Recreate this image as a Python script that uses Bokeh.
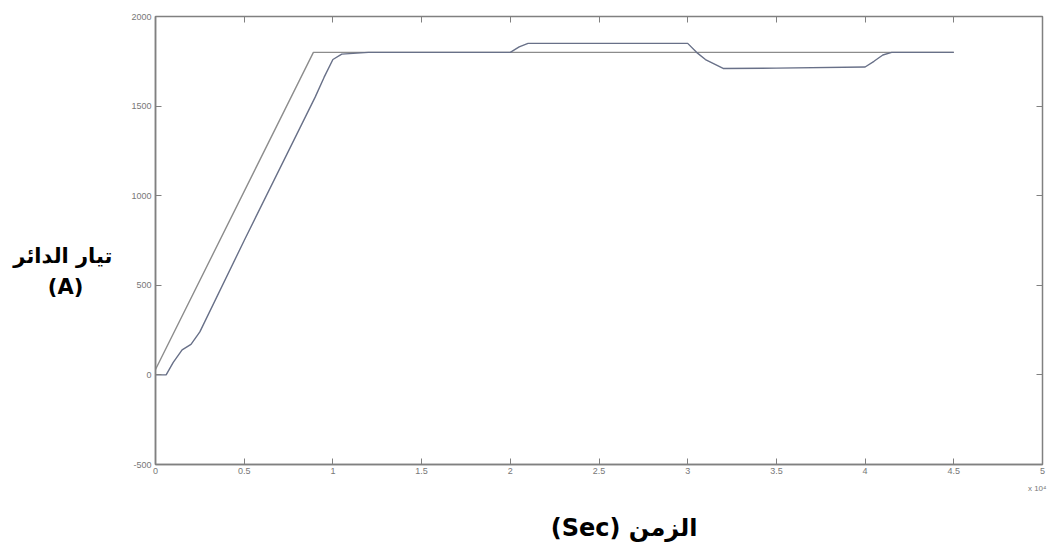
from bokeh.plotting import figure
from bokeh.models import LinearAxis, Title, FixedTicker, Range1d
from bokeh.embed import file_html
from bokeh.resources import INLINE

# reference current (straight ramp)
t_ref = [0.0, 0.89, 4.5]
i_ref = [30, 1800, 1800]

# measured current
t_act = [0.0, 0.06, 0.10, 0.15, 0.20, 0.25, 0.50, 0.75, 0.90, 0.95, 1.00, 1.05, 1.20,
         2.00, 2.05, 2.10, 3.00, 3.05, 3.10, 3.20, 3.50, 4.00, 4.05, 4.10, 4.15, 4.50]
i_act = [0, 0, 70, 140, 170, 240, 750, 1250, 1550, 1660, 1760, 1790, 1800,
         1800, 1830, 1850, 1850, 1800, 1760, 1710, 1712, 1718, 1750, 1785, 1800, 1800]

x_ticks = [0, 0.5, 1, 1.5, 2, 2.5, 3, 3.5, 4, 4.5, 5]
x_tick_labels = ["0", "0.5", "1", "1.5", "2", "2.5", "3", "3.5", "4", "4.5", "5"]
y_ticks = [-500, 0, 500, 1000, 1500, 2000]
y_tick_labels = ["-500", "0", "500", "1000", "1500", "2000"]

y_title = "تيار الدائر"
y_unit = "(A)"
x_title = "(Sec) الزمن"
x_scale_note = "x 10⁴"

NBSP = "\u00a0"

p = figure(width=1049, height=553, output_backend="svg", toolbar_location=None,
           x_range=Range1d(0, 5), y_range=Range1d(-500, 2000),
           min_border_left=155, min_border_right=7, min_border_top=16, min_border_bottom=89)
p.grid.visible = False
p.outline_line_color = "#808080"
p.outline_line_width = 1.5
p.background_fill_color = "white"
p.border_fill_color = "white"

tick_font = "Liberation Sans"
lab_font = "DejaVu Sans"
for ax in (p.xaxis[0], p.yaxis[0]):
    ax.axis_line_color = "#808080"
    ax.axis_line_width = 1.5
    ax.major_tick_line_color = "#808080"
    ax.major_tick_in = 6
    ax.major_tick_out = 0
    ax.minor_tick_line_color = None
    ax.major_label_text_font = tick_font
    ax.major_label_text_font_size = "9px"
    ax.major_label_text_color = "#777777"
    ax.axis_label_text_font = lab_font
    ax.axis_label_text_font_style = "bold"
    ax.axis_label_text_font_size = "21px"
    ax.axis_label_text_color = "black"

p.xaxis[0].ticker = FixedTicker(ticks=x_ticks)
p.xaxis[0].major_label_overrides = {t: l for t, l in zip(x_ticks, x_tick_labels)}
p.xaxis[0].major_label_standoff = 3

p.yaxis[0].ticker = FixedTicker(ticks=y_ticks)
p.yaxis[0].major_label_overrides = {t: l for t, l in zip(y_ticks, y_tick_labels)}
p.yaxis[0].major_label_standoff = 4
p.yaxis[0].axis_label = "\n\n" + y_title + "\n" + y_unit + NBSP * 4
p.yaxis[0].axis_label_orientation = "horizontal"
p.yaxis[0].axis_label_text_align = "center"
p.yaxis[0].axis_label_text_line_height = 1.3
p.yaxis[0].axis_label_standoff = 16

top = LinearAxis(ticker=FixedTicker(ticks=x_ticks),
                 major_label_overrides={t: "" for t in x_ticks},
                 major_label_text_font_size="1px",
                 axis_line_color=None, major_tick_line_color="#808080",
                 major_tick_in=6, major_tick_out=0, minor_tick_line_color=None,
                 major_label_standoff=0)
right = LinearAxis(ticker=FixedTicker(ticks=y_ticks),
                   major_label_overrides={t: "" for t in y_ticks},
                   major_label_text_font_size="1px",
                   axis_line_color=None, major_tick_line_color="#808080",
                   major_tick_in=6, major_tick_out=0, minor_tick_line_color=None,
                   major_label_standoff=0)
p.add_layout(top, "above")
p.add_layout(right, "right")

# scale note just under the tick labels, right aligned
p.add_layout(Title(text=x_scale_note, align="right", text_font=tick_font,
                   text_font_size="8px", text_font_style="normal",
                   text_color="#777777", offset=-4), "below")

# x title carried by a tick-less second axis below the note
bottom2 = LinearAxis(ticker=FixedTicker(ticks=[]), axis_line_color=None,
                     major_tick_line_color=None, minor_tick_line_color=None,
                     axis_label=NBSP * 6 + x_title, axis_label_standoff=16,
                     axis_label_text_font=lab_font, axis_label_text_font_style="bold",
                     axis_label_text_font_size="24px", axis_label_text_color="black")
p.add_layout(bottom2, "below")

p.line(t_ref, i_ref, line_color="#8c8c8c", line_width=1.4)
p.line(t_act, i_act, line_color="#687088", line_width=1.4)

open("out.html", "w").write(file_html(p, INLINE))
